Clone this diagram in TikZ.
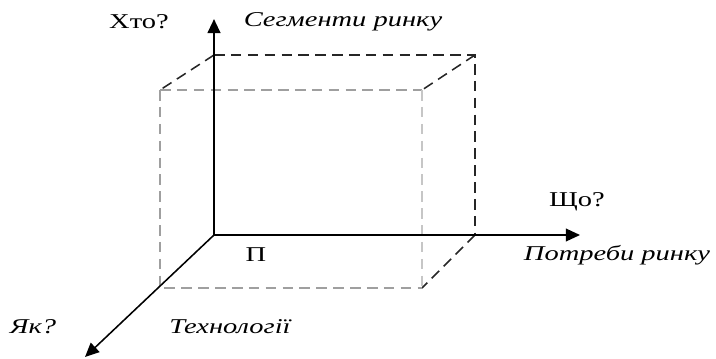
\documentclass[tikz,border=0pt]{standalone}
\usepackage{fontspec}
\setmainfont{Liberation Serif}[FakeStretch=1.35]
\usepackage{tikz}
\usetikzlibrary{arrows.meta}

\begin{document}
\begin{tikzpicture}[
    x=0.025cm, y=-0.025cm,
    axis/.style = {-{Triangle[length=10pt, width=9pt]}, line width=1.1pt},
    back_edge/.style = {dashed, dash pattern=on 7.5pt off 4.5pt, line width=1.1pt, black!85},
    front_edge/.style = {dashed, dash pattern=on 7.5pt off 4.5pt, line width=1.1pt, gray!75},
    label_up/.style = {font=\fontsize{15}{17}\selectfont, inner sep=0pt},
    label_it/.style = {label_up, font=\fontsize{15}{17}\selectfont\itshape}
]
\useasboundingbox (0,0) rectangle (716,358);

% --- Vershyny kuba ---
\coordinate (O) at (214,235);
\coordinate (bTL) at (214,55);
\coordinate (bTR) at (475,55);
\coordinate (bBR) at (475,235);
\coordinate (fTL) at (160,90);
\coordinate (fTR) at (422,90);
\coordinate (fBR) at (422,288);
\coordinate (fBL) at (160,288);

% --- Kintsi osei ---
\coordinate (y_tip) at (214,19);
\coordinate (x_tip) at (580,235);
\coordinate (z_tip) at (85,357);

% --- Zadnia hran' ---
\draw[back_edge] (bTL) -- (bTR) -- (bBR);
\draw[back_edge] (bTL) -- (fTL);
\draw[back_edge] (bTR) -- (fTR);
\draw[back_edge] (bBR) -- (fBR);

% --- Perednia hran' ---
\draw[front_edge] (fTL) -- (fTR);
\draw[front_edge] (fTL) -- (fBL) -- (fBR);
\draw[front_edge, gray!45, line width=1.8pt] (fTR) -- (fBR);

% --- Osi ---
\draw[axis, line width=1.6pt] (O) -- (y_tip);
\draw[axis] (O) -- (x_tip);
\draw[axis] (O) -- (z_tip);

% --- Pidpysy ---
\node[label_up] (who) at (139,22) {Хто?};
\node[label_it] (segments) at (343,22) {Сегменти ринку};
\node[label_up] (what) at (577,202) {Що?};
\node[label_it] (needs) at (617,255) {Потреби ринку};
\node[label_up] (origin) at (256,255) {П};
\node[label_it] (how) at (33,327) {Як?};
\node[label_it] (tech) at (230,327) {Технології};

\end{tikzpicture}
\end{document}
